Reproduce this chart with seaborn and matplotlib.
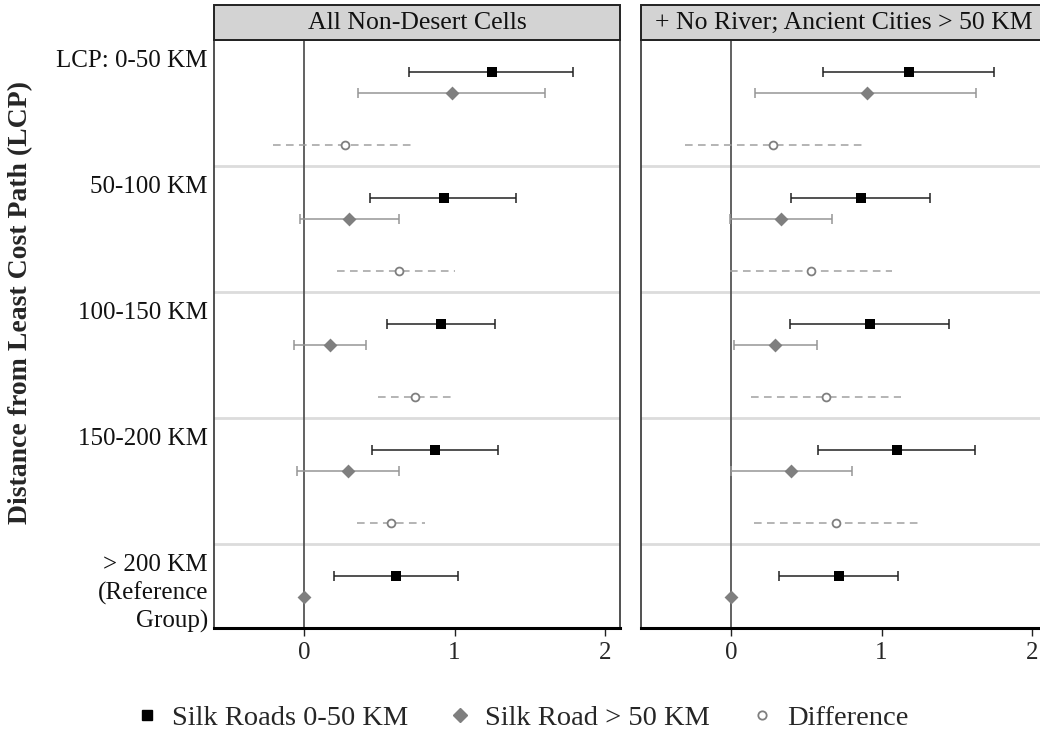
import numpy as np
import pandas as pd
import seaborn as sns
import matplotlib.pyplot as plt
from matplotlib.lines import Line2D
from matplotlib.patches import Rectangle
from matplotlib.transforms import blended_transform_factory

# data
groups = ['LCP: 0-50 KM', '50-100 KM', '100-150 KM', '150-200 KM', '> 200 KM\n(Reference\nGroup)']
panels = ['All Non-Desert Cells', '+ No River; Ancient Cities > 50 KM']
series_names = ['Silk Roads 0-50 KM', 'Silk Road > 50 KM', 'Difference']

# panel 1: all non-desert cells
near_est_1 = [1.25, 0.93, 0.91, 0.87, 0.61]
near_lo_1 = [0.70, 0.44, 0.55, 0.45, 0.20]
near_hi_1 = [1.79, 1.41, 1.27, 1.29, 1.02]
far_est_1 = [0.98, 0.30, 0.17, 0.29, 0.0]
far_lo_1 = [0.36, -0.03, -0.07, -0.05, np.nan]
far_hi_1 = [1.60, 0.63, 0.41, 0.63, np.nan]
diff_est_1 = [0.27, 0.63, 0.74, 0.58]
diff_lo_1 = [-0.21, 0.22, 0.49, 0.35]
diff_hi_1 = [0.72, 1.00, 1.00, 0.80]

# panel 2: no river, ancient cities > 50 km
near_est_2 = [1.18, 0.86, 0.92, 1.10, 0.72]
near_lo_2 = [0.61, 0.40, 0.39, 0.58, 0.32]
near_hi_2 = [1.75, 1.32, 1.45, 1.62, 1.11]
far_est_2 = [0.90, 0.33, 0.29, 0.40, 0.0]
far_lo_2 = [0.16, -0.01, 0.02, 0.0, np.nan]
far_hi_2 = [1.63, 0.67, 0.57, 0.80, np.nan]
diff_est_2 = [0.28, 0.53, 0.63, 0.70]
diff_lo_2 = [-0.31, -0.01, 0.13, 0.15]
diff_hi_2 = [0.87, 1.07, 1.13, 1.25]

panel_data = [
    [(near_est_1, near_lo_1, near_hi_1), (far_est_1, far_lo_1, far_hi_1), (diff_est_1, diff_lo_1, diff_hi_1)],
    [(near_est_2, near_lo_2, near_hi_2), (far_est_2, far_lo_2, far_hi_2), (diff_est_2, diff_lo_2, diff_hi_2)],
]

offsets = [1.5, 2.5, 5.0]
rows = []
for p, pdat in enumerate(panel_data):
    for s, (est, lo, hi) in enumerate(pdat):
        for g in range(len(est)):
            rows.append(dict(panel=panels[p], series=series_names[s], group=g,
                             y=6 * g + offsets[s], est=est[g], lo=lo[g], hi=hi[g]))
df = pd.DataFrame(rows)

sns.set_theme(style='white')
plt.rcParams['font.family'] = ['Liberation Serif', 'DejaVu Serif']

BLACK = '#000000'
GRAY_M = '#7f7f7f'
GRAY_L = '#969696'

fig = plt.figure(figsize=(10.4, 7.36), dpi=100)
W, H = 1040, 736
positions = [214, 641]
for p, panel in enumerate(panels):
    ax = fig.add_axes([positions[p] / W, (H - 628) / H, 406 / W, 588 / H])
    sub = df[df.panel == panel]

    for g in [6, 12, 18, 24]:
        ax.axhline(g, color='#dcdcdc', lw=2, zorder=0)
    ax.axvline(0, color='#555555', lw=1.3, zorder=1)

    near = sub[sub.series == series_names[0]]
    far = sub[sub.series == series_names[1]].dropna()
    diff = sub[sub.series == series_names[2]]

    ax.errorbar(near.est, near.y, xerr=[near.est - near.lo, near.hi - near.est],
                fmt='none', ecolor='#222222', elinewidth=1.1, capsize=3.9, capthick=1.1, zorder=2)
    ax.errorbar(far.est, far.y, xerr=[far.est - far.lo, far.hi - far.est],
                fmt='none', ecolor=GRAY_L, elinewidth=1.1, capsize=3.9, capthick=1.1, zorder=2)
    ax.hlines(diff.y, diff.lo, diff.hi, colors='#a0a0a0', lw=1.1,
              linestyles=[(0, (5, 3.5))], zorder=2)

    sns.scatterplot(data=near, x='est', y='y', marker='s', s=55, color=BLACK,
                    edgecolor=BLACK, linewidth=0, ax=ax, zorder=3, legend=False)
    sns.scatterplot(data=sub[sub.series == series_names[1]], x='est', y='y', marker='D', s=50,
                    color=GRAY_M, edgecolor=GRAY_M, linewidth=0, ax=ax, zorder=3, legend=False)
    sns.scatterplot(data=diff, x='est', y='y', marker='o', s=32, color=GRAY_M,
                    facecolor='white', edgecolor=GRAY_M, linewidth=1.3, ax=ax, zorder=3, legend=False)

    ax.set_xlim(-0.6, 2.1)
    ax.set_ylim(28, 0)
    ax.set_xticks([0, 1, 2])
    ax.set_xticklabels(['0', '1', '2'], fontsize=18)
    ax.set_yticks([])
    ax.set_xlabel('')
    ax.set_ylabel('')
    ax.tick_params(axis='x', bottom=True, length=6, width=1, color='#222222', pad=4)
    for side in ['left', 'right', 'top']:
        ax.spines[side].set_color('#333333')
        ax.spines[side].set_linewidth(1.2)
    ax.spines['bottom'].set_color(BLACK)
    ax.spines['bottom'].set_linewidth(2.2)

    # strip title
    strip_h = 35 / 588
    ax.add_patch(Rectangle((0, 1), 1, strip_h, transform=ax.transAxes, clip_on=False,
                           facecolor='#d3d3d3', edgecolor='#222222', lw=1.4, zorder=5))
    ax.text(0.5, 1 + strip_h / 2, panel, transform=ax.transAxes, ha='center', va='center',
            fontsize=18.5, color='#111111', zorder=6)

    if p == 0:
        tr = blended_transform_factory(ax.transAxes, ax.transData)
        for g, lab in enumerate(groups):
            for k, line in enumerate(lab.split('\n')):
                ax.text(-6 / 406, 6 * g + 1 + k * 1.35, line, transform=tr, ha='right',
                        va='center', fontsize=18, color='#111111')

fig.text(21 / W, 1 - 302 / H, 'Distance from Least Cost Path (LCP)', rotation=90,
         ha='center', va='center', fontsize=20, fontweight='bold')

handles = [
    Line2D([], [], marker='s', color=BLACK, linestyle='none', markersize=7),
    Line2D([], [], marker='D', color=GRAY_M, linestyle='none', markersize=7),
    Line2D([], [], marker='o', markerfacecolor='white', markeredgecolor=GRAY_M,
           markeredgewidth=1.3, linestyle='none', markersize=6),
]
fig.legend(handles, series_names, loc='center', bbox_to_anchor=(519 / W, 1 - 718 / H),
           ncol=3, frameon=False, fontsize=20.5, handletextpad=0.28, columnspacing=1.22,
           handlelength=1.2)

fig.savefig('out.png', dpi=100)
